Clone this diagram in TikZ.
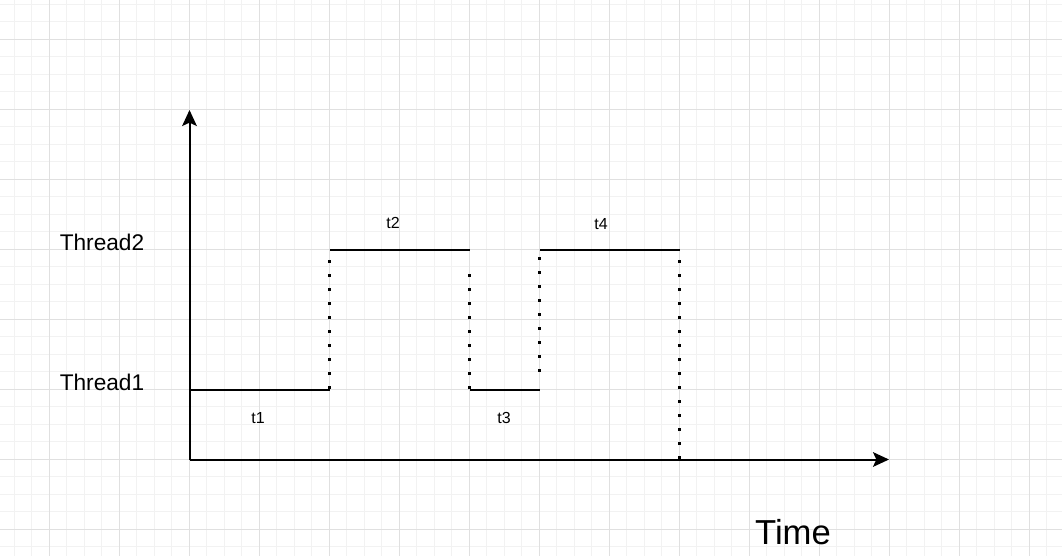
\documentclass[tikz,border=0pt]{standalone}
\usepackage{fontspec}
\setmainfont{Liberation Sans}
\usetikzlibrary{arrows.meta}

\tikzset{
  axis/.style={line width=1.5pt, -{Stealth[length=12pt,width=11pt,inset=2.5pt]}},
  level/.style={line width=1.5pt},
  switch/.style={line width=2.25pt, dash pattern=on 2.25pt off 8.25pt},
  lbl/.style={inner sep=0pt, anchor=west, font=\fontsize{17}{20}\selectfont},
  tlbl/.style={inner sep=0pt, font=\fontsize{12}{14}\selectfont},
}

\begin{document}
\begin{tikzpicture}[x=0.75pt,y=-0.75pt]
	\useasboundingbox (0,0) rectangle (1062,556);
	\fill[white] (0,0) rectangle (1062,556);
	% grid
	\foreach \i in {0,...,60}
		\draw[black!5, line width=0.75pt] ({14.3+17.5*\i},0) -- ({14.3+17.5*\i},556);
	\foreach \i in {0,...,31}
		\draw[black!5, line width=0.75pt] (0,{4.3+17.5*\i}) -- (1062,{4.3+17.5*\i});
	\foreach \i in {0,...,15}
		\draw[black!12, line width=0.75pt] ({49.3+70*\i},0) -- ({49.3+70*\i},556);
	\foreach \i in {0,...,7}
		\draw[black!12, line width=0.75pt] (0,{39.3+70*\i}) -- (1062,{39.3+70*\i});

	% axes
	\coordinate (o) at (189.5,459.5);
	\coordinate (ytip) at (189.5,110);
	\coordinate (xtip) at (889,459.5);
	\coordinate (xend) at (749,459.5);
	\draw[level] (o) -- (xend);
	\draw[axis] (o) -- (ytip);
	\draw[axis] (o) -- (xtip);

	% thread levels
	\coordinate (a0) at (189.5,389.5);
	\coordinate (a1) at (329.5,389.5);
	\coordinate (b1) at (329.5,249.5);
	\coordinate (b2) at (469.5,249.5);
	\coordinate (c2) at (469.5,389.5);
	\coordinate (c3) at (539.5,389.5);
	\coordinate (d3) at (539.5,249.5);
	\coordinate (d4) at (679.5,249.5);
	\draw[level] (a0) -- (a1);
	\draw[level] (b1) -- (b2);
	\draw[level] (c2) -- (c3);
	\draw[level] (d3) -- (d4);

	% switches
	\coordinate (s1) at (329.5,389.2);
	\coordinate (s2) at (469.5,389.2);
	\coordinate (s2top) at (469.5,274);
	\coordinate (s3) at (539.5,371.5);
	\coordinate (s3top) at (539.5,256.5);
	\coordinate (s4) at (679.5,459.2);
	\draw[switch] (s1) -- (b1);
	\draw[switch] (s2) -- (s2top);
	\draw[switch] (s3) -- (s3top);
	\draw[switch] (s4) -- (d4);

	% labels
	\node[lbl] (th2) at (59.5,242) {Thread2};
	\node[lbl] (th1) at (59.5,382) {Thread1};
	\node[tlbl] (t1) at (258,418) {t1};
	\node[tlbl] (t2) at (393,223) {t2};
	\node[tlbl] (t3) at (504,418) {t3};
	\node[tlbl] (t4) at (601,224) {t4};
	\node[inner sep=0pt, font=\fontsize{26}{30}\selectfont] (time) at (793,532) {Time};
\end{tikzpicture}
\end{document}
